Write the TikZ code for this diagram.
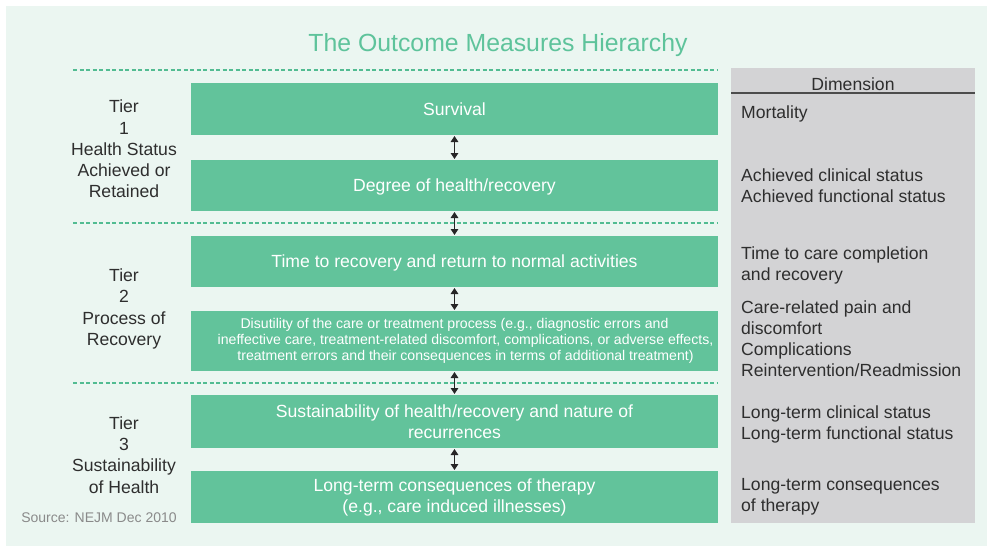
\documentclass[tikz,border=0pt]{standalone}
\usepackage{fontspec}
\setmainfont{Liberation Sans}
\usetikzlibrary{arrows.meta}
\definecolor{bgmint}{HTML}{EBF6F1}
\definecolor{boxgreen}{HTML}{62C39B}
\definecolor{titlegreen}{HTML}{5EC39B}
\definecolor{dashgreen}{HTML}{52BC92}
\definecolor{dimgrey}{HTML}{D3D3D5}
\definecolor{txtdark}{HTML}{2E2E2E}
\definecolor{srcgrey}{HTML}{8A8A8A}
\tikzset{
  gbox/.style={draw=none, fill=boxgreen, inner sep=0pt, outer sep=0pt, minimum width=527pt, text=white, align=center, font=\fontsize{17.6}{21}\selectfont},
  tierlbl/.style={text=txtdark, align=center, font=\fontsize{17.6}{21.2}\selectfont},
  dimlbl/.style={text=txtdark, align=left, anchor=north west, inner sep=0pt, font=\fontsize{17.6}{21}\selectfont},
  sepline/.style={draw=dashgreen, dash pattern=on 4pt off 2.5pt, line width=1.2pt},
  dblarrow/.style={{Triangle[length=6pt,width=7.5pt]}-{Triangle[length=6pt,width=7.5pt]}, line width=1.6pt, black!85, shorten <=1pt, shorten >=1pt}
}
\begin{document}
\begin{tikzpicture}[x=1pt,y=-1pt]
\useasboundingbox (0,0) rectangle (987,550);
\fill[white] (0,0) rectangle (987,550);
\fill[bgmint] (6,6) rectangle (987,546);
% title
\node[text=titlegreen, font=\fontsize{24.8}{28}\selectfont] (title) at (498,45) {The Outcome Measures Hierarchy};
% dimension panel
\fill[dimgrey] (731,68) rectangle (975,523);
\node[text=txtdark, font=\fontsize{17.6}{21}\selectfont] (dimhead) at (853,84) {Dimension};
\draw[line width=1.3pt, draw=black!70] (731,93) -- (975,93);
% separators
\coordinate (s0a) at (73,70); \coordinate (s0b) at (718,70);
\coordinate (s1a) at (73,223); \coordinate (s1b) at (718,223);
\coordinate (s2a) at (73,383); \coordinate (s2b) at (718,383);
\draw[sepline] (s0a) -- (s0b);
\draw[sepline] (s1a) -- (s1b);
\draw[sepline] (s2a) -- (s2b);
% boxes
\node[gbox, minimum height=52pt, text depth=0pt] (b1) at (454.5,109) {Survival};
\node[gbox, minimum height=51pt, text depth=0pt] (b2) at (454.5,185.5) {Degree of health/recovery};
\node[gbox, minimum height=51pt, text depth=0pt] (b3) at (454.5,261.5) {Time to recovery and return to normal activities};
\node[gbox, minimum height=60pt, font=\fontsize{14.1}{15.8}\selectfont] (b4) at (454.5,341) {Disutility of the care or treatment process (e.g., diagnostic errors and\\ \hspace*{22pt}ineffective care, treatment-related discomfort, complications, or adverse effects,\\ \hspace*{22pt}treatment errors and their consequences in terms of additional treatment)};
\node[gbox, minimum height=53pt] (b5) at (454.5,421.5) {Sustainability of health/recovery and nature of\\ recurrences};
\node[gbox, minimum height=52pt] (b6) at (454.5,497) {Long-term consequences of therapy\\ (e.g., care induced illnesses)};
% arrows
\draw[dblarrow] (b1.south) -- (b2.north);
\draw[dblarrow] (b2.south) -- (b3.north);
\draw[dblarrow] (b3.south) -- (b4.north);
\draw[dblarrow] (b4.south) -- (b5.north);
\draw[dblarrow] (b5.south) -- (b6.north);
% tier labels
\node[tierlbl] (t1) at (124,149) {Tier\\ 1\\ Health Status\\ Achieved or\\ Retained};
\node[tierlbl] (t2) at (124,309) {Tier\\ 2\\ Process of\\ Recovery};
\node[tierlbl] (t3) at (124,455) {Tier\\ 3\\ Sustainability\\ of Health};
\node[text=srcgrey, font=\fontsize{14}{16}\selectfont] (src) at (99,518) {Source: NEJM Dec 2010};
% dimension texts
\node[dimlbl] (d1) at (741,106) {Mortality};
\node[dimlbl] (d2) at (741,169) {Achieved clinical status\\ Achieved functional status};
\node[dimlbl] (d3) at (741,247) {Time to care completion\\ and recovery};
\node[dimlbl] (d4) at (741,301) {Care-related pain and\\ discomfort\\ Complications\\ Reintervention/Readmission};
\node[dimlbl] (d5) at (741,406) {Long-term clinical status\\ Long-term functional status};
\node[dimlbl] (d6) at (741,478) {Long-term consequences\\ of therapy};
\end{tikzpicture}
\end{document}
